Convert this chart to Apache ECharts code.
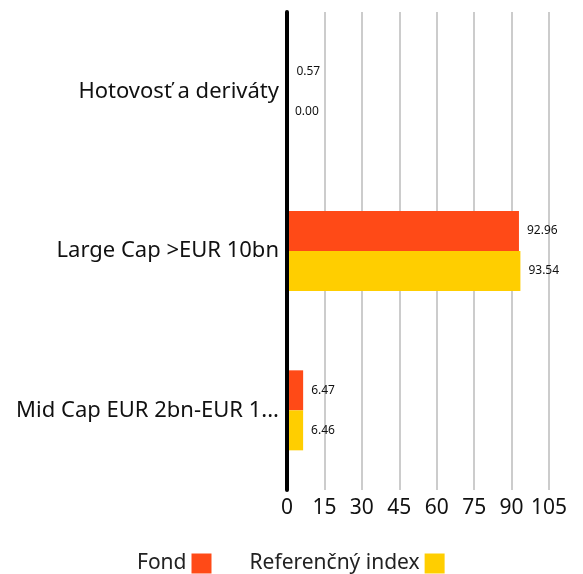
<!DOCTYPE html>
<html>
<head>
<meta charset="utf-8">
<script src="https://cdn.jsdelivr.net/npm/echarts@6/dist/echarts.min.js"></script>
<style>
  html, body { margin: 0; padding: 0; background: #fff; }
  #chart { width: 583px; height: 574px; }
</style>
</head>
<body>
<div id="chart"></div>
<script>
var categories = ["Hotovosť a deriváty", "Large Cap >EUR 10bn", "Mid Cap EUR 2bn-EUR 10bn"];
var fondValues = [0.57, 92.96, 6.47];
var indexValues = [0.0, 93.54, 6.46];
var seriesNames = ["Fond", "Referenčný index"];

var chartDom = document.getElementById("chart");
var myChart = echarts.init(chartDom);
var option;

var labelStyle = {
  show: true,
  position: "right",
  distance: 8,
  color: "#111",
  fontSize: 12,
  fontFamily: "Noto Sans",
  formatter: function (p) {
    return p.value.toFixed(2);
  },
};

option = {
  animation: false,
  textStyle: { fontFamily: "Noto Sans" },
  grid: {
    left: 287,
    right: 34,
    top: 12,
    bottom: 84,
  },
  legend: {
    top: 548,
    left: 132,
    align: "right",
    itemWidth: 20,
    itemHeight: 20,
    itemGap: 38,
    icon: "rect",
    textStyle: { fontSize: 21, color: "#222" },
    data: seriesNames,
  },
  xAxis: {
    type: "value",
    min: 0,
    max: 105,
    interval: 15,
    axisLine: { show: false },
    axisTick: { show: false },
    axisLabel: { fontSize: 21, color: "#111", margin: 8 },
    splitLine: { lineStyle: { color: "#cccccc", width: 2 } },
  },
  yAxis: {
    type: "category",
    inverse: true,
    z: 5,
    data: categories,
    axisLine: { lineStyle: { color: "#000", width: 4 } },
    axisTick: { show: false },
    axisLabel: {
      fontSize: 22,
      color: "#111",
      margin: 8,
      width: 266,
      overflow: "truncate",
      ellipsis: "...",
    },
  },
  series: [
    {
      name: seriesNames[0],
      type: "bar",
      data: fondValues,
      barWidth: 40,
      barGap: "0%",
      itemStyle: { color: "#FF4A17" },
      label: labelStyle,
    },
    {
      name: seriesNames[1],
      type: "bar",
      data: indexValues,
      barWidth: 40,
      barGap: "0%",
      itemStyle: { color: "#FFCE00" },
      label: labelStyle,
    },
  ],
};

option && myChart.setOption(option);
window.addEventListener("resize", function () {
  myChart.resize();
});
</script>
</body>
</html>
